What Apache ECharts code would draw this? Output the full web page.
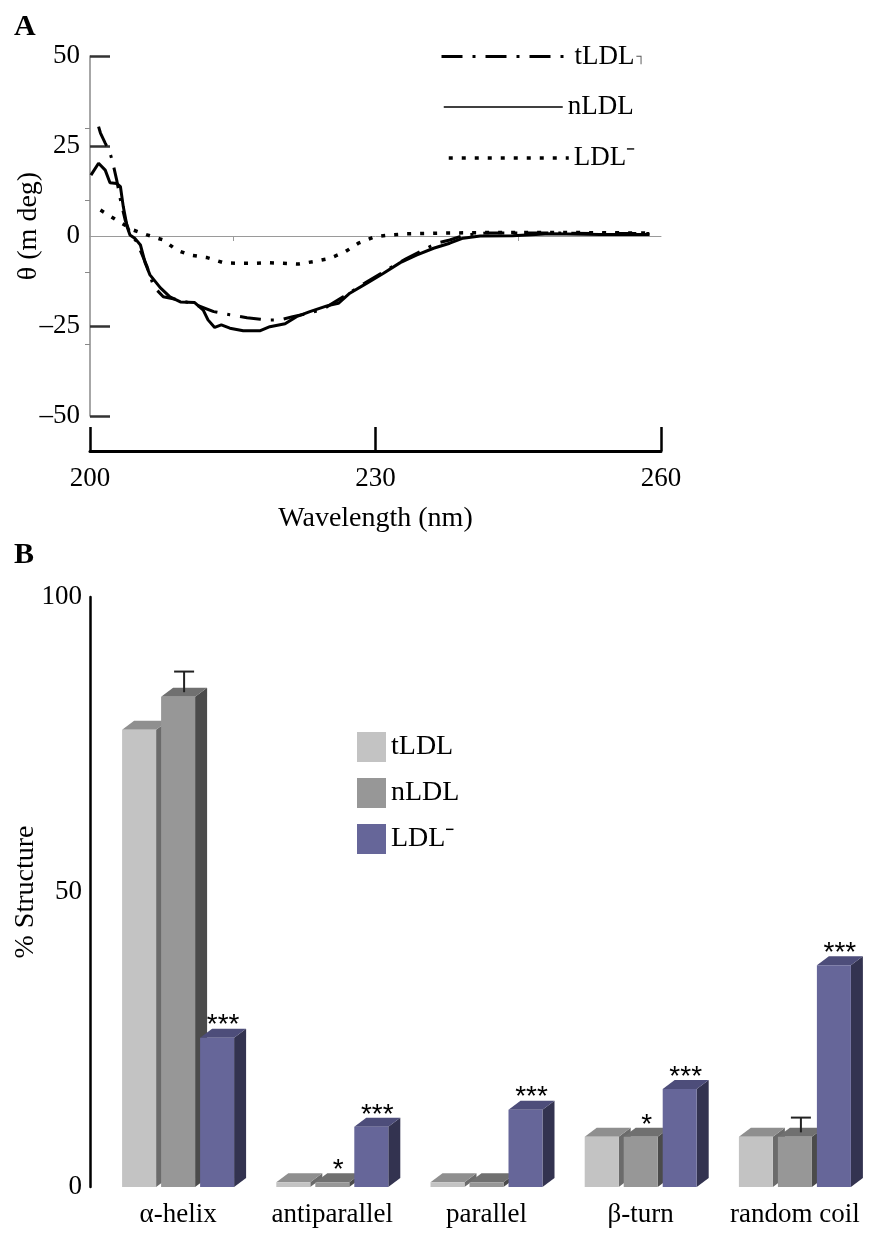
<!DOCTYPE html>
<html>
<head>
<meta charset="utf-8">
<script src="https://cdn.jsdelivr.net/npm/echarts@6.0.0/dist/echarts.min.js"></script>
<style>
  html, body { margin: 0; background: #fff; }
  #chart { width: 879px; height: 1253px; }
</style>
</head>
<body>
<div id="chart"></div>
<script>
// panel A: CD spectra (wavelength in nm, ellipticity in m deg)
const tldlWave = [200.9, 201.1, 201.6, 202.1, 202.4, 202.8, 203.2, 203.7, 204.2, 204.9, 205.4, 206.0, 206.7, 207.7, 209.5, 211.2, 213.0, 214.7, 216.5, 217.9, 218.6, 220.0, 221.3, 223.1, 224.5, 226.6, 229.1, 231.2, 233.3, 235.0, 236.4, 237.8, 239.4, 241.5, 245.2, 249.4, 253.6, 258.8];
const tldlTheta = [30.4, 28.6, 25.8, 23.1, 20.3, 15.6, 10.0, 4.4, 0.8, -1.6, -4.7, -8.5, -14.1, -16.9, -17.8, -19.2, -21.0, -21.9, -22.7, -23.1, -23.3, -23.3, -22.4, -21.4, -20.3, -16.9, -12.7, -9.4, -6.2, -3.9, -2.0, -1.1, 0.3, 0.8, 0.8, 0.8, 0.7, 0.7];

const nldlWave = [200.1, 200.9, 201.6, 202.1, 202.8, 203.2, 203.5, 203.9, 204.2, 204.7, 205.3, 205.8, 206.3, 207.4, 208.4, 209.5, 211.0, 211.9, 212.4, 213.1, 213.8, 214.7, 216.1, 217.9, 218.9, 220.5, 221.7, 223.1, 224.9, 226.1, 227.3, 229.1, 230.8, 232.6, 234.3, 236.1, 237.8, 239.2, 241.0, 244.4, 248.3, 253.6, 258.8];
const nldlTheta = [16.9, 20.2, 18.3, 14.8, 14.6, 13.7, 8.1, 2.6, 0.3, -0.6, -2.5, -7.5, -10.8, -14.4, -16.9, -18.3, -18.5, -20.6, -23.3, -25.4, -24.7, -25.6, -26.3, -26.3, -25.2, -24.4, -22.4, -21.0, -19.4, -18.7, -15.9, -13.1, -10.4, -7.4, -5.3, -3.4, -2.0, -0.6, 0, 0.1, 0.6, 0.4, 0.4];

const ldlmWave = [201.1, 202.8, 204.5, 206.0, 207.7, 209.1, 210.5, 212.3, 214.0, 215.8, 217.2, 218.6, 220.3, 221.9, 223.5, 225.2, 226.8, 228.2, 229.9, 231.5, 233.3, 236.8, 243.1, 249.4, 258.8];
const ldlmTheta = [7.2, 4.4, 1.7, 0.3, -1.1, -3.9, -5.3, -6.0, -7.4, -7.6, -7.6, -7.4, -7.6, -7.8, -7.1, -6.2, -4.4, -2.0, -0.2, 0.3, 0.6, 0.8, 1.0, 1.0, 0.8];

// panel B: secondary structure (%)
const structures = ['α-helix', 'antiparallel', 'parallel', 'β-turn', 'random coil'];
const tldlPct = [77.5, 0.8, 0.8, 8.5, 8.5];
const nldlPct = [83.1, 0.8, 0.8, 8.5, 8.5];
const ldlmPct = [25.3, 10.2, 13.1, 16.6, 37.6];
const tldlErr = [0, 0, 0, 0, 0];
const nldlErr = [3.5, 0, 0, 0, 2.5];
const ldlmErr = [0, 0, 0, 0, 0];
const tldlMarks = ['', '', '', '', ''];
const nldlMarks = ['', '*', '', '*', ''];
const ldlmMarks = ['***', '***', '***', '***', '***'];

const serif = '"Liberation Serif", "Times New Roman", serif';
const sans = '"Liberation Sans", Arial, sans-serif';

const zip = (xs, ys) => xs.map((x, i) => [x, ys[i]]);
const rows = (vals, errs, marks) => vals.map((v, i) => [i, v, errs[i], marks[i]]);

// 3D bar faces: front, side, top
const barColors = [
  { front: '#c3c3c3', side: '#6b6b6b', top: '#8f8f8f' },
  { front: '#979797', side: '#4b4b4b', top: '#707070' },
  { front: '#666699', side: '#333350', top: '#4d4d7a' },
]

const makeBar = (k) => (params, api) => {
  const i = api.value(0)
  const v = api.value(1)
  const err = api.value(2)
  const mark = api.value(3)
  const base = api.coord([i, 0])
  const top = api.coord([i, v])
  const w = 34
  const dx = 12
  const dy = 9
  const x0 = base[0] - 56 + k * 39
  const y0 = top[1]
  const yb = base[1]
  const c = barColors[k]
  const children = [
    {
      type: 'polygon',
      shape: { points: [[x0 + w, y0], [x0 + w + dx, y0 - dy], [x0 + w + dx, yb - dy], [x0 + w, yb]] },
      style: { fill: c.side },
    },
    {
      type: 'polygon',
      shape: { points: [[x0, y0], [x0 + dx, y0 - dy], [x0 + w + dx, y0 - dy], [x0 + w, y0]] },
      style: { fill: c.top },
    },
    {
      type: 'rect',
      shape: { x: x0, y: y0, width: w, height: yb - y0 },
      style: { fill: c.front },
    },
  ]
  const cx = x0 + w / 2 + dx / 2
  if (err > 0) {
    const ye = api.coord([i, v + err])[1] - dy / 2
    children.push({
      type: 'line',
      shape: { x1: cx, y1: y0 - dy / 2, x2: cx, y2: ye },
      style: { stroke: '#222', lineWidth: 2 },
    })
    children.push({
      type: 'line',
      shape: { x1: cx - 10, y1: ye, x2: cx + 10, y2: ye },
      style: { stroke: '#222', lineWidth: 2 },
    })
  }
  if (mark) {
    children.push({
      type: 'text',
      x: cx,
      y: y0 - dy - 17,
      style: { text: mark, font: '28px ' + sans, fill: '#000', align: 'center', verticalAlign: 'top' },
    })
  }
  return { type: 'group', children }
}

const chart = echarts.init(document.getElementById('chart'))

// legend of panel A: line only, no symbol
const lineLegend = (name, left, top, width, lineWidth) => ({
  data: [name],
  left,
  top,
  padding: 0,
  itemWidth: width,
  itemHeight: 30,
  selectedMode: false,
  itemStyle: { opacity: 0 },
  lineStyle: { width: lineWidth },
  textStyle: { fontFamily: serif, fontSize: 27, lineHeight: 30, color: '#000' },
})

chart.setOption({
  animation: false,
  backgroundColor: '#fff',
  textStyle: { fontFamily: serif, color: '#000' },
  graphic: [
    { type: 'text', left: 14, top: 12, style: { text: 'A', font: 'bold 30px ' + serif, fill: '#000' } },
    { type: 'text', left: 14, top: 540, style: { text: 'B', font: 'bold 30px ' + serif, fill: '#000' } },
  ],
  legend: [
    {
      ...lineLegend('tLDL', 440, 43, 128, 3),
      formatter: (name) => `{a|${name}}{b|┐}`,
      textStyle: {
        rich: {
          a: { fontFamily: serif, fontSize: 27, lineHeight: 30, color: '#000' },
          b: { fontFamily: sans, fontSize: 13, color: '#555', padding: [0, 0, 0, 2] },
        },
      },
    },
    lineLegend('nLDL', 443, 92, 119, 1.5),
    lineLegend('LDL⁻', 447, 143, 120, 3.5),
    {
      data: [
        { name: 'tLDL ', itemStyle: { color: barColors[0].front } },
        { name: 'nLDL ', itemStyle: { color: barColors[1].front } },
        { name: 'LDL⁻ ', itemStyle: { color: barColors[2].front } },
      ],
      orient: 'vertical',
      left: 357,
      top: 732,
      padding: 0,
      icon: 'rect',
      itemWidth: 29,
      itemHeight: 30,
      itemGap: 16,
      selectedMode: false,
      textStyle: { fontFamily: serif, fontSize: 28, lineHeight: 30, color: '#000' },
    },
  ],
  grid: [
    { left: 90, right: 218, top: 56, bottom: 837, outerBoundsMode: 'none' },
    { left: 101, right: 7, top: 597, bottom: 66, outerBoundsMode: 'none' },
  ],
  xAxis: [
    {
      gridIndex: 0,
      type: 'value',
      min: 200,
      max: 260,
      interval: 30,
      position: 'bottom',
      offset: 35,
      axisLine: { onZero: false, lineStyle: { color: '#000', width: 3 } },
      axisTick: { inside: true, length: 24, lineStyle: { color: '#000', width: 2.5 } },
      axisLabel: { margin: 14, fontFamily: serif, fontSize: 27, color: '#000' },
      splitLine: { show: false },
      name: 'Wavelength (nm)',
      nameLocation: 'middle',
      nameGap: 54,
      nameTextStyle: { fontFamily: serif, fontSize: 28, color: '#000' },
    },
    // zero line with its two small ticks
    {
      gridIndex: 0,
      type: 'value',
      min: 200,
      max: 260,
      position: 'bottom',
      axisLine: { onZero: true, lineStyle: { color: '#9a9a9a', width: 1 } },
      axisTick: { customValues: [215, 245], length: 5, lineStyle: { color: '#9a9a9a' } },
      axisLabel: { show: false },
      splitLine: { show: false },
    },
    {
      gridIndex: 1,
      type: 'category',
      data: structures,
      axisLine: { show: false },
      axisTick: { show: false },
      axisLabel: { interval: 0, margin: 14, fontFamily: serif, fontSize: 27, color: '#000' },
    },
  ],
  yAxis: [
    {
      gridIndex: 0,
      type: 'value',
      min: -50,
      max: 50,
      interval: 25,
      axisLine: { show: true, onZero: false, lineStyle: { color: '#8a8a8a', width: 1.5 } },
      axisTick: { inside: true, length: 20, customValues: [-50, -25, 25, 50], lineStyle: { color: '#333', width: 2.5 } },
      axisLabel: {
        margin: 10,
        fontFamily: serif,
        fontSize: 27,
        color: '#000',
        formatter: (v) => (v < 0 ? '\u2013' + -v : String(v)),
      },
      splitLine: { show: false },
      name: 'θ (m deg)',
      nameLocation: 'middle',
      nameGap: 47,
      nameMoveOverlap: false,
      nameTextStyle: { fontFamily: serif, fontSize: 28, color: '#000', padding: [0, 0, 0, 20] },
    },
    {
      gridIndex: 0,
      type: 'value',
      min: -50,
      max: 50,
      position: 'left',
      axisLine: { show: false, onZero: false },
      axisTick: { show: true, length: 5, customValues: [-30, -10, 10, 30], lineStyle: { color: '#888' } },
      axisLabel: { show: false },
      splitLine: { show: false },
    },
    {
      gridIndex: 1,
      type: 'value',
      min: 0,
      max: 100,
      interval: 50,
      offset: 11,
      axisLine: { show: true, lineStyle: { color: '#000', width: 2.5 } },
      axisTick: { inside: true, length: 20, lineStyle: { color: '#000', width: 2.5 } },
      axisLabel: { margin: 8, fontFamily: serif, fontSize: 27, color: '#000' },
      splitLine: { show: false },
      name: '% Structure',
      nameLocation: 'middle',
      nameGap: 50,
      nameMoveOverlap: false,
      nameTextStyle: { fontFamily: serif, fontSize: 28, color: '#000' },
    },
  ],
  series: [
    {
      name: 'tLDL',
      type: 'line',
      xAxisIndex: 0,
      yAxisIndex: 0,
      data: zip(tldlWave, tldlTheta),
      symbol: 'none',
      color: '#000',
      lineStyle: { color: '#000', width: 3, type: [21, 10, 3, 10] },
    },
    {
      name: 'nLDL',
      type: 'line',
      xAxisIndex: 0,
      yAxisIndex: 0,
      data: zip(nldlWave, nldlTheta),
      symbol: 'none',
      color: '#000',
      lineStyle: { color: '#000', width: 3 },
    },
    {
      name: 'LDL⁻',
      type: 'line',
      xAxisIndex: 0,
      yAxisIndex: 0,
      data: zip(ldlmWave, ldlmTheta),
      symbol: 'none',
      color: '#000',
      lineStyle: { color: '#000', width: 3.5, type: [4, 9] },
    },
    {
      name: 'tLDL ',
      type: 'custom',
      xAxisIndex: 2,
      yAxisIndex: 2,
      itemStyle: { color: barColors[0].front },
      encode: { x: 0, y: 1 },
      data: rows(tldlPct, tldlErr, tldlMarks),
      renderItem: makeBar(0),
    },
    {
      name: 'nLDL ',
      type: 'custom',
      xAxisIndex: 2,
      yAxisIndex: 2,
      itemStyle: { color: barColors[1].front },
      encode: { x: 0, y: 1 },
      data: rows(nldlPct, nldlErr, nldlMarks),
      renderItem: makeBar(1),
    },
    {
      name: 'LDL⁻ ',
      type: 'custom',
      xAxisIndex: 2,
      yAxisIndex: 2,
      itemStyle: { color: barColors[2].front },
      encode: { x: 0, y: 1 },
      data: rows(ldlmPct, ldlmErr, ldlmMarks),
      renderItem: makeBar(2),
    },
  ],
})
</script>
</body>
</html>
